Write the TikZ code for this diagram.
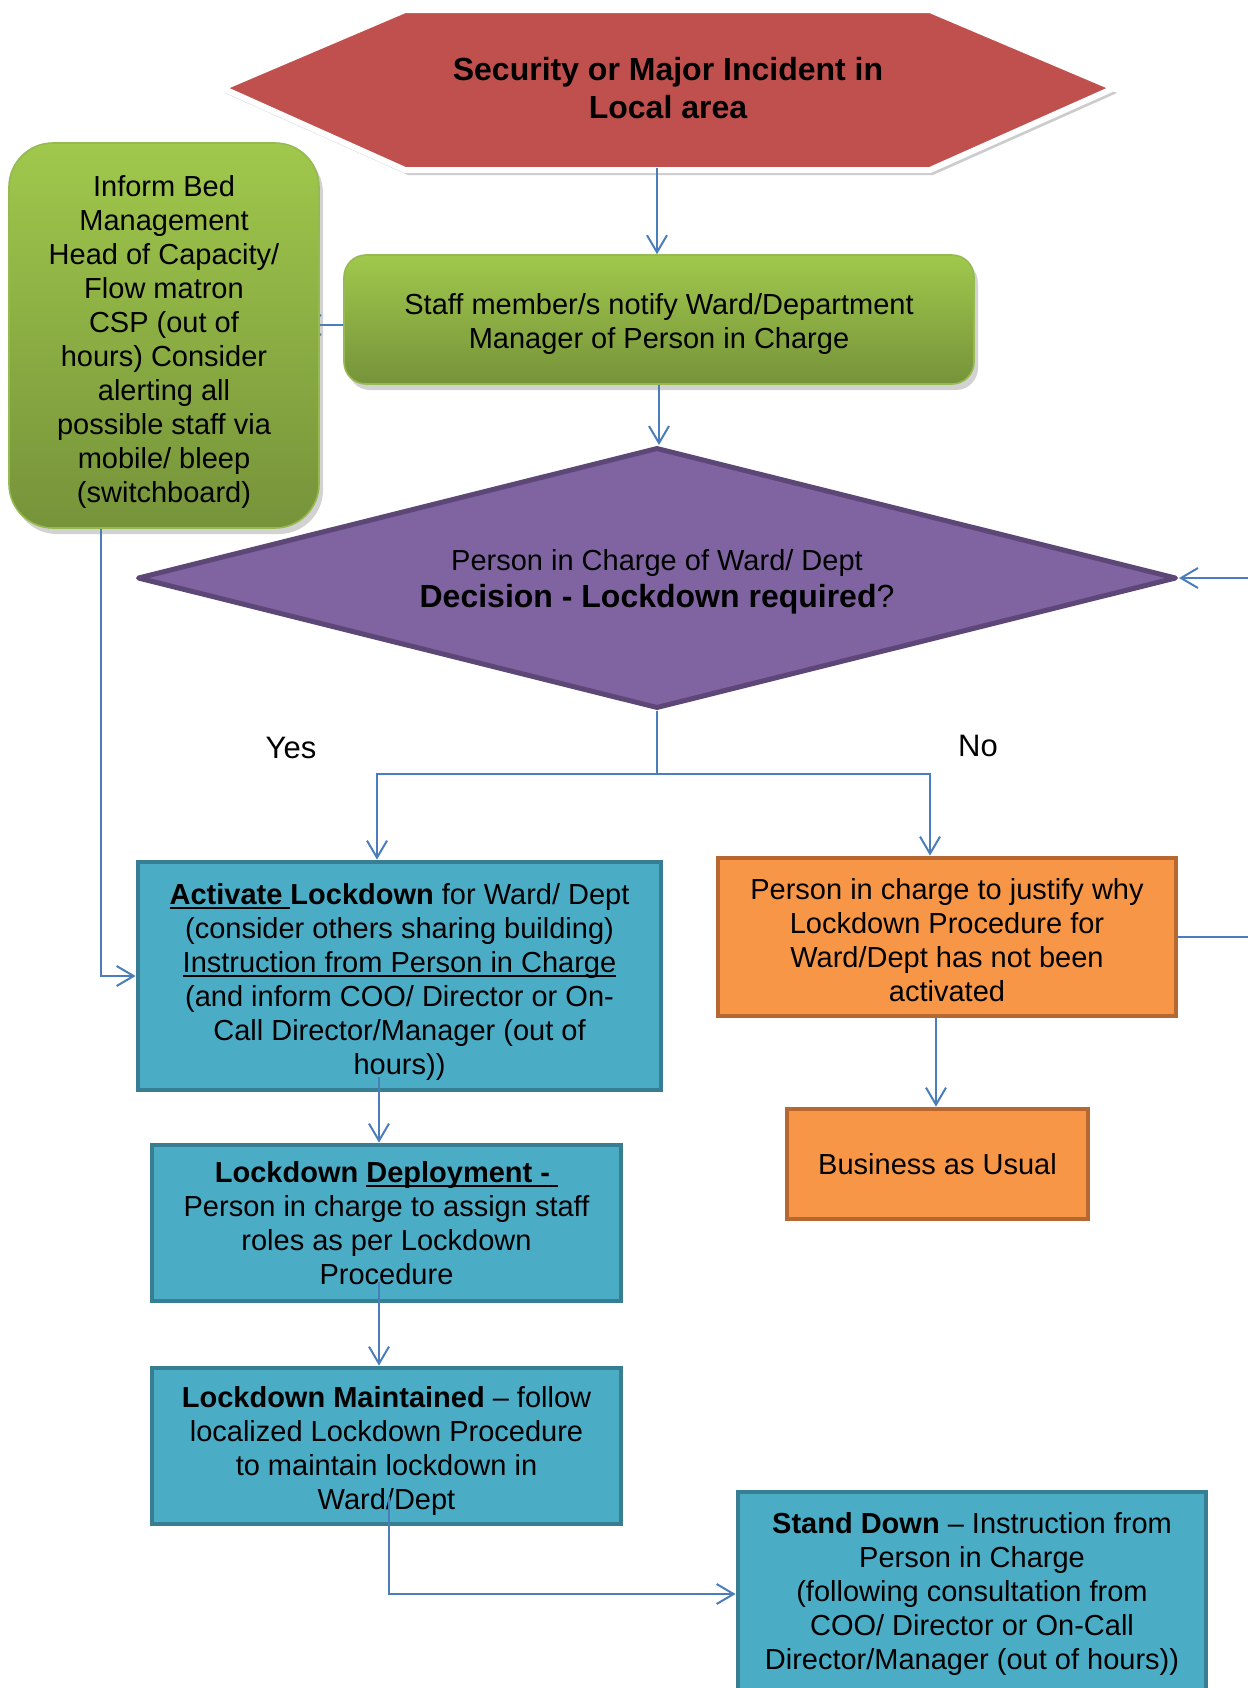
\documentclass[tikz,border=0pt]{standalone}
\usepackage{fontspec}
\setmainfont{Liberation Sans}
\usetikzlibrary{shapes.geometric,arrows.meta,shadows}
\definecolor{redfill}{RGB}{192,80,77}
\definecolor{gtop}{RGB}{160,200,76}
\definecolor{gbot}{RGB}{118,147,58}
\definecolor{grim}{RGB}{150,185,80}
\definecolor{purfill}{RGB}{128,100,162}
\definecolor{purline}{RGB}{92,71,118}
\definecolor{tealfill}{RGB}{75,172,198}
\definecolor{tealline}{RGB}{55,126,146}
\definecolor{orfill}{RGB}{247,150,70}
\definecolor{orline}{RGB}{182,104,48}
\definecolor{conncol}{RGB}{74,126,187}
\newcommand{\ulbox}[1]{\setbox0=\hbox{#1}\rlap{\rule[-2.4pt]{\wd0}{1.1pt}}\box0}
\newcommand{\tstr}[1]{\rule{0pt}{#1}}
\pgfdeclarelayer{paper}
\pgfdeclarelayer{bg}
\pgfsetlayers{paper,bg,main}
\tikzset{
  txt/.style={font=\fontsize{14.5}{17}\selectfont, align=center, text=black, inner sep=0pt},
  greenbox/.style={txt, top color=gtop, bottom color=gbot, draw=grim, line width=0.8pt,
    drop shadow={opacity=0.35, shadow xshift=2pt, shadow yshift=-3pt}},
  tealbox/.style={txt, fill=tealfill, draw=tealline, line width=2.4pt},
  orbox/.style={txt, fill=orfill, draw=orline, line width=2.4pt},
  connline/.style={draw=conncol, line width=1pt},
  conn/.style={connline, -{Straight Barb[length=8.5pt,width=10pt]}},
  lbl/.style={font=\fontsize{15.5}{18}\selectfont, inner sep=0pt}
}
\begin{document}
\begin{tikzpicture}[x=0.5pt,y=-0.5pt]
\useasboundingbox (0,0) rectangle (1248,1688);
\begin{pgfonlayer}{paper}
\fill[white] (0,0) rectangle (1248,1688);
\end{pgfonlayer}
\clip (0,0) rectangle (1248,1688);

% top hexagon
\filldraw[fill=redfill, draw=white, line width=3pt, line join=round,
  drop shadow={opacity=0.4, shadow xshift=1.5pt, shadow yshift=-2.5pt}]
  (222,88) -- (405,10) -- (930,10) -- (1114,88) -- (930,170) -- (405,170) -- cycle;
\node[font=\bfseries\fontsize{16}{18.8}\selectfont, align=center, minimum width=446pt,
  minimum height=80pt, inner sep=0pt] (hex) at (668,88) {Security or Major Incident in\\Local area};

% green boxes
\node[greenbox, minimum width=155pt, minimum height=192.5pt, rounded corners=22pt] (green) at (164,335.5)
  {\tstr{17pt}Inform Bed\\Management\\Head of Capacity/\\Flow matron\\CSP (out of\\hours) Consider\\alerting all\\possible staff via\\mobile/ bleep\\(switchboard)};
\node[greenbox, minimum width=315pt, minimum height=64.5pt, rounded corners=11pt] (staff) at (659,319.5)
  {\tstr{14.9pt}Staff member/s notify Ward/Department\\Manager of Person in Charge};

% decision
\node[diamond, shape aspect=4, fill=purfill, draw=purline, line width=2.5pt, line join=round,
  minimum width=519.5pt, minimum height=130.5pt, inner sep=0pt, align=center,
  font=\fontsize{14.5}{18.5}\selectfont] (dia) at (657,578)
  {\tstr{14.4pt}Person in Charge of Ward/ Dept\\\fontsize{16}{18.5}\selectfont\textbf{Decision - Lockdown required}?};

\node[lbl] (yes) at (291,748) {Yes};
\node[lbl] (no) at (978,746) {No};

% teal boxes
\node[tealbox, minimum width=261.5pt, minimum height=114pt] (act) at (399.5,976)
  {\tstr{16pt}\ulbox{\textbf{Activate }}\textbf{Lockdown} for Ward/ Dept\\(consider others sharing building)\\\ulbox{Instruction from Person in Charge}\\(and inform COO/ Director or On-\\Call Director/Manager (out of\\hours))};
\node[tealbox, minimum width=234.5pt, minimum height=78pt] (dep) at (386.5,1223)
  {\textbf{Lockdown }\ulbox{\textbf{Deployment - }}\\Person in charge to assign staff\\roles as per Lockdown\\Procedure};
\node[tealbox, minimum width=234.5pt, minimum height=78pt] (maint) at (386.5,1446)
  {\tstr{15pt}\textbf{Lockdown Maintained} – follow\\localized Lockdown Procedure\\to maintain lockdown in\\Ward/Dept};
\node[tealbox, minimum width=234pt, minimum height=102pt] (sd) at (972,1594)
  {\textbf{Stand Down} – Instruction from\\Person in Charge\\(following consultation from\\COO/ Director or On-Call\\Director/Manager (out of hours))};

% orange boxes
\node[orbox, minimum width=229pt, minimum height=79pt] (just) at (947,937)
  {\tstr{13.8pt}Person in charge to justify why\\Lockdown Procedure for\\Ward/Dept has not been\\activated};
\node[orbox, minimum width=150.5pt, minimum height=55pt] (bus) at (937.5,1164) {Business as Usual};

% connectors
\draw[conn] (hex.south -| dia.north) -- (staff.north -| dia.north);
\draw[conn] (staff.south) -- (staff.south |- dia.north);
\begin{pgfonlayer}{bg}
\draw[conn] ([yshift=-2.75pt]staff.west) -- ++(-41,0);
\end{pgfonlayer}
\coordinate (split) at (657,774);
\draw[connline] (dia.south) -- (split);
\draw[conn] (split) -| ([xshift=-11.25pt]act.north);
\draw[conn] (split) -| ([xshift=-8.5pt]just.north);
\draw[conn] ([xshift=-31.5pt]green.south) |- (act.west);
\draw[conn] ([xshift=-10.25pt,yshift=7.5pt]act.south) -- ([xshift=-3.75pt]dep.north);
\draw[conn] ([xshift=-3.75pt,yshift=10.5pt]dep.south) -- ([xshift=-3.75pt]maint.north);
\draw[conn] ([xshift=1.25pt,yshift=14.5pt]maint.south) |- (sd.west);
\draw[conn] ([xshift=-5.5pt]just.south) -- ([xshift=-0.75pt]bus.north);
\draw[conn] (just.east) -- ++(130,0) |- (dia.east);
\end{tikzpicture}
\end{document}
